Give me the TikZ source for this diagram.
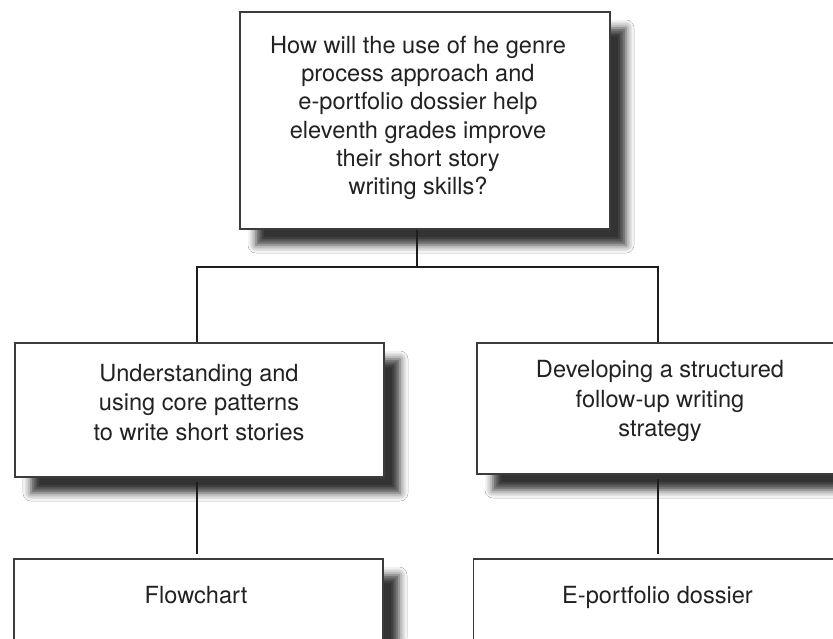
\documentclass[tikz,border=0pt]{standalone}
\usepackage{fontspec}
\setmainfont{TeX Gyre Heros}
\usetikzlibrary{shadows.blur}
\definecolor{boxline}{HTML}{3C3C3C}
\definecolor{lncol}{HTML}{1E1E1E}
\definecolor{txtcol}{HTML}{222222}
\begin{document}
\begin{tikzpicture}[x=1pt,y=-1pt,
  box/.style={rectangle, draw=boxline, line width=1.3pt, fill=white, inner sep=0pt,
    blur shadow={shadow xshift=16pt, shadow yshift=-16pt, shadow blur radius=8pt, shadow opacity=80}},
  txt/.style={align=center, text=txtcol, inner sep=0pt, font=\fontsize{23.6}{28.3}\selectfont},
  txtb/.style={txt, font=\fontsize{23.6}{29.5}\selectfont},
  conn/.style={draw=lncol, line width=2.3pt, line join=miter}]
\fill[white] (0,0) rectangle (833,638);
\useasboundingbox (0,0) rectangle (833,638);
\clip (0,0) rectangle (833,638);

\node[box, minimum width=370pt, minimum height=217pt] (top) at (425,120.5) {};
\node[txt] (toptext) at (418,118) {How will the use of he genre\\process approach and\\e-portfolio dossier help\\eleventh grades improve\\their short story\\writing skills?};

\node[box, minimum width=369pt, minimum height=134pt] (left) at (199.5,410) {};
\node[txtb] (lefttext) at (199,402.5) {Understanding and\\using core patterns\\to write short stories};

\node[box, minimum width=366pt, minimum height=131pt] (right) at (660,408.5) {};
\node[txtb] (righttext) at (660,401) {Developing a structured\\follow-up writing\\strategy};

\node[box, minimum width=369pt, minimum height=134pt] (bl) at (198.5,626) {};
\node[txt, anchor=base] (bltext) at (196,603.5) {Flowchart};

\node[box, minimum width=369pt, minimum height=134pt] (br) at (658,626) {};
\node[txt, anchor=base] (brtext) at (657.5,603.5) {E-portfolio dossier};

\coordinate (hub) at (417,267);
\draw[conn] ([xshift=-8pt]top.south) -- (hub);
\draw[conn] ([xshift=-2.5pt]left.north) |- (hub) -| ([xshift=-2pt]right.north);
\draw[conn, shorten <=4pt, shorten >=4pt] ([xshift=-2.5pt]left.south) -- ([xshift=-1.5pt]bl.north);
\draw[conn, shorten <=4pt, shorten >=4pt] ([xshift=-2pt]right.south) -- (br.north);
\end{tikzpicture}
\end{document}
